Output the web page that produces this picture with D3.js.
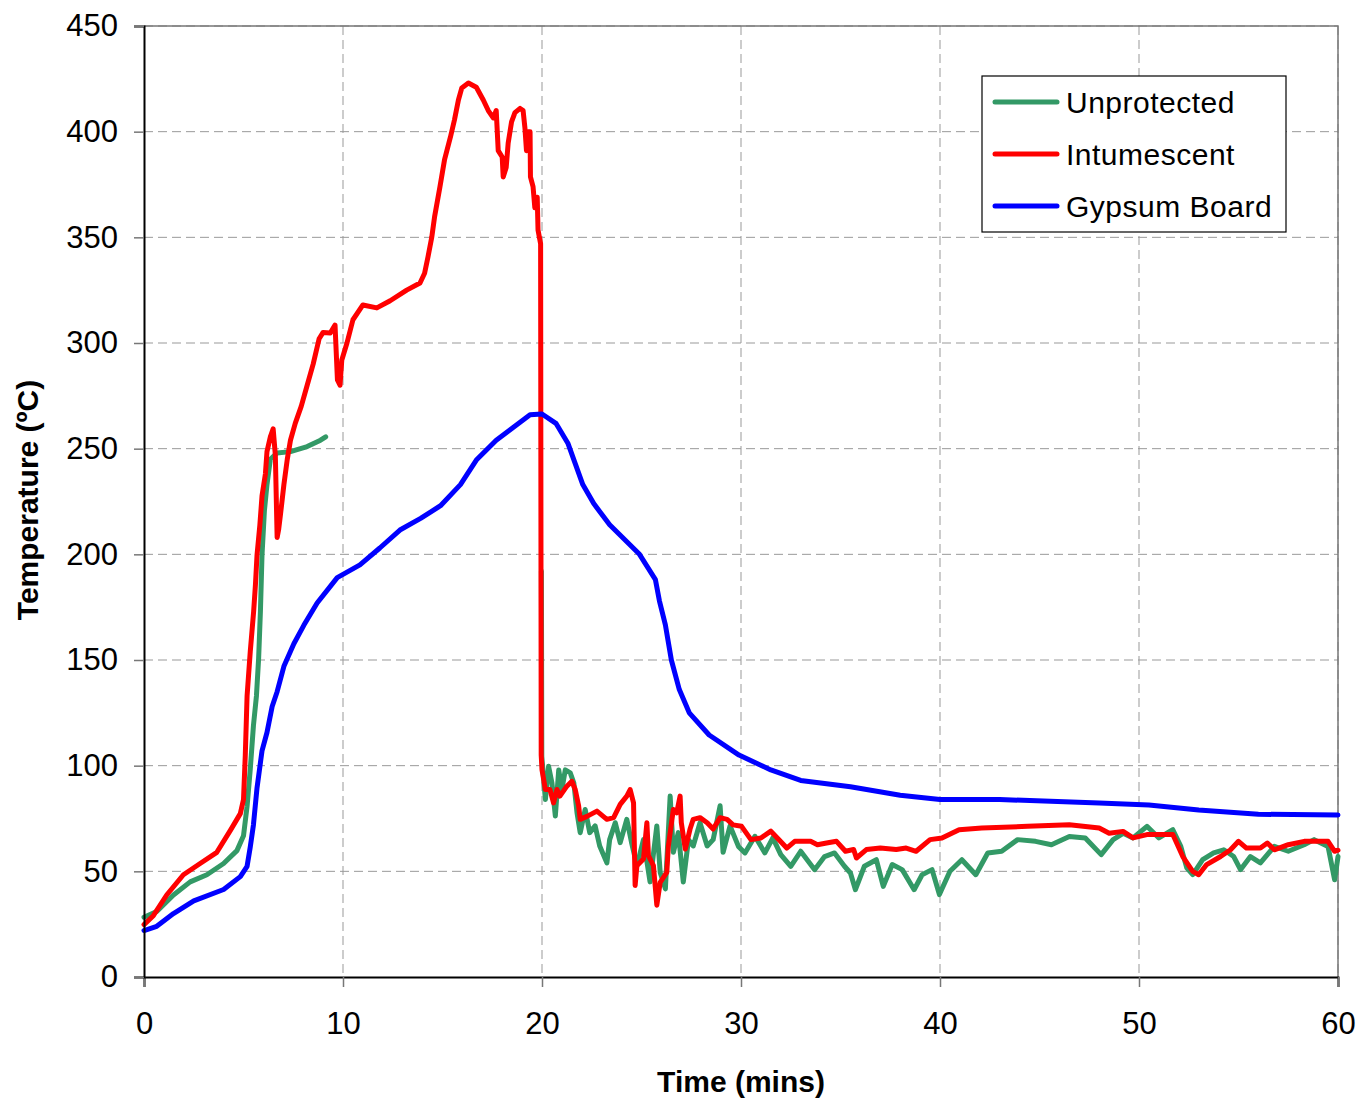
<!DOCTYPE html>
<html>
<head>
<meta charset="utf-8">
<script src="https://cdn.jsdelivr.net/npm/d3@7"></script>
<style>
  body { margin: 0; background: #fff; }
  text { font-family: "Liberation Sans", Arial, sans-serif; }
</style>
</head>
<body>
<div id="chart"></div>
<script>
// series (time in mins, temperature in C)
var unprotTime = [0, 0.64, 1.48, 2.32, 3.16, 4.0, 4.67, 5.0, 5.18, 5.34, 5.5, 5.65, 5.76, 5.85, 5.93, 6.05, 6.18, 6.35, 6.69, 7.36, 8.2, 8.87, 9.13,
    null,
    19.97, 19.99, 20.17, 20.33, 20.5, 20.67, 20.84, 21.0, 21.17, 21.42, 21.6, 21.76, 21.92, 22.17, 22.4, 22.67, 22.9, 23.26, 23.4, 23.68, 23.93, 24.26, 24.5, 24.77, 25.1, 25.43, 25.77, 25.94, 26.2, 26.44, 26.6, 26.85, 27.1, 27.36, 27.6, 27.94, 28.3, 28.6, 28.95, 29.1, 29.45,
    29.87, 30.2, 30.7, 31.2, 31.6, 32.0, 32.5, 33.0, 33.7, 34.2, 34.7, 35.2, 35.5, 35.75, 36.2, 36.8, 37.15, 37.6, 38.1, 38.7, 39.1, 39.6, 39.97, 40.5, 41.1, 41.8, 42.4, 43.1, 43.9,
    44.8, 45.6, 46.5, 47.3, 48.1, 48.7, 49.2, 49.7, 50.4, 51.0, 51.7, 52.1, 52.4, 52.7, 53.2, 53.75, 54.26, 54.76, 55.1, 55.6, 56.1, 56.8, 57.5, 58.3, 58.8, 59.5, 59.83, 60];
var unprotTemp = [28.3, 31, 38.8, 45, 48.4, 53.7, 59.8, 66.8, 80.8, 98.3, 119, 133, 150.7, 173, 199.6, 220.6, 233, 245, 248, 248.6, 251, 254, 255.6,
    null,
    192, 104.4, 84, 99.7, 91.8, 76.2, 98, 88.7, 98, 96.6, 91.8, 77.7, 68.3, 79.3, 68.3, 71.5, 62, 54, 65, 73, 63.6, 74.6, 63.6, 52.7, 65, 45, 71.5, 49.5, 41.7, 85.6, 59, 68.3, 45, 65, 62, 73, 62, 65, 81, 59, 71.5,
    61.8, 58.7, 66.6, 58.7, 65.8, 57.9, 52.4, 59.5, 50.8, 57, 58.7, 52.4, 49.2, 41.3, 52.4, 55.5, 42.9, 53.2, 50.8, 41.3, 48.4, 50.8, 39, 50, 55.5, 48.4, 58.7, 59.5, 65,
    64.2, 62.6, 66.5, 65.8, 57.9, 65, 68, 65.8, 71.3, 65.8, 69.7, 61.8, 51.6, 48.4, 55.5, 58.7, 60.2, 57, 50.8, 57, 54, 61.8, 59.5, 62.6, 65, 61.8, 46, 57];

var intumTime = [0, 0.47, 1.14, 1.98, 2.82, 3.66, 4.34, 4.84, 5.0, 5.09, 5.18, 5.34, 5.51, 5.6, 5.68, 5.82, 5.93, 6.1, 6.18, 6.35, 6.49, 6.6, 6.69, 6.77, 6.86, 7.03, 7.2, 7.36, 7.6, 7.9, 8.2, 8.5, 8.8, 9.0, 9.36, 9.6, 9.72, 9.85, 9.94,
    10.2, 10.5, 11.0, 11.7, 12.37, 13.2, 13.87, 14.1, 14.27, 14.46, 14.6, 14.87, 15.1, 15.4, 15.6, 15.8, 15.97, 16.3, 16.7, 17.05, 17.3, 17.55, 17.7, 17.8, 18.0, 18.05, 18.2, 18.3, 18.47, 18.64, 18.9, 19.05, 19.14, 19.22, 19.3, 19.4, 19.42, 19.55, 19.64, 19.76, 19.8, 19.93, 19.96,
    20.0, 20.17, 20.4, 20.58, 20.75, 20.9, 21.25, 21.5, 21.67, 21.84, 21.92, 22.26, 22.76, 23.26, 23.6, 23.93, 24.26, 24.43, 24.6, 24.68, 24.77, 25.1, 25.27, 25.35, 25.6, 25.77, 25.94, 26.27, 26.35, 26.6, 26.77, 26.94, 27.0, 27.2, 27.44, 27.6, 27.94, 28.3, 28.6, 28.95, 29.3, 29.6,
    30.03, 30.5, 31.0, 31.5, 31.98, 32.3, 32.7, 33.5, 33.84, 34.3, 34.8, 35.25, 35.66, 35.8, 36.3, 37.0, 37.8, 38.3, 38.8, 39.5, 40.1, 40.96, 42.1, 44.4,
    46.5, 48.0, 48.5, 49.2, 49.7, 50.4, 51.7, 52.2, 52.7, 53.0, 53.4, 54.1, 54.6, 55.0, 55.4, 56.1, 56.45, 56.8, 57.5, 58.3, 59.5, 59.83, 60];
var intumTemp = [24.8, 29, 38.8, 48.4, 53.7, 59, 69.4, 77.3, 84, 105, 133, 154, 173, 185.7, 199.7, 213.6, 227.6, 238, 248.6, 255.6, 259.4, 247, 208, 212, 219, 233, 245, 254, 262, 270, 280, 290, 302, 305, 304.7, 308.5, 282.5, 280, 292,
    300, 311, 318, 316.6, 320, 325, 328.4, 333, 340.7, 350, 359.6, 373.8, 386.6, 397.5, 405.5, 415, 420.7, 423, 421, 415, 410, 406.5, 410, 391, 388, 378.6, 383, 394.6, 404.6, 409, 411, 410, 402, 391, 400, 400, 378.6, 374, 364, 369, 353.5, 347, 105,
    98, 88.7, 88.7, 82.4, 88.7, 85.6, 90.3, 92.6, 88.7, 81, 74.6, 76, 78.5, 74.6, 75.4, 81.7, 85.6, 88.7, 82.4, 43.3, 52.7, 55.8, 73, 57.4, 52.7, 34, 44.8, 49.5, 62, 79.3, 77.7, 85.6, 73, 60.5, 70, 74.6, 75.4, 73, 70, 75.4, 74.6, 72,
    71.3, 65, 65.8, 69, 64.2, 61, 64.2, 64.2, 62.6, 63.4, 64.2, 59.5, 60.3, 56.3, 60.3, 61, 60.3, 61, 59.5, 65, 65.8, 69.7, 70.5, 71.3,
    72, 70.5, 68, 68.9, 65.8, 67.4, 67.4, 57, 50, 48.4, 53.2, 57, 60.2, 64.2, 61, 61, 63.4, 60.2, 62.6, 64.2, 64.2, 59.5, 60];

var gypsumTime = [0, 0.64, 1.48, 2.5, 4.0, 4.84, 5.18, 5.34, 5.5, 5.68, 5.93, 6.18, 6.44, 6.69, 7.03, 7.53, 8.03, 8.7, 9.71, 10.85, 11.85, 12.86, 13.9, 14.9, 15.9, 16.7, 17.7, 19.4, 20.0, 20.7, 21.3,
    22.05, 22.6, 23.4, 24.9, 25.7, 25.9, 26.2, 26.5, 26.9, 27.4, 28.4, 29.9, 31.5, 33, 35.5, 38, 40, 43, 48, 50.5, 53, 56, 60];
var gypsumTemp = [22, 24, 30, 36, 41.4, 47.5, 52.4, 61.5, 72, 89.5, 107, 115.7, 128, 135, 147, 157.7, 166.4, 177, 189, 195, 203, 211.5, 217, 223, 233, 244.6, 254, 266, 266.4, 262, 252.6,
    233, 224, 214, 200, 188, 178, 166.6, 150, 136, 125, 114.5, 105, 98, 93, 90, 86, 84, 84, 82.3, 81.4, 79, 77, 76.7];

var xTicks = [0, 10, 20, 30, 40, 50, 60];
var yTicks = [0, 50, 100, 150, 200, 250, 300, 350, 400, 450];
var seriesNames = ['Unprotected', 'Intumescent', 'Gypsum Board'];
var seriesColors = ['#339966', '#ff0000', '#0000ff'];

function toPoints(times, temps) {
    return times.map(function(t, i) { return { t: t, v: temps[i] }; });
}

var allSeries = [
    toPoints(unprotTime, unprotTemp),
    toPoints(intumTime, intumTemp),
    toPoints(gypsumTime, gypsumTemp)
];

var W = 1359, H = 1099;
var margin = { top: 26, right: 21, bottom: 122, left: 144 };
var w = W - margin.left - margin.right;
var h = H - margin.top - margin.bottom;

var svg = d3.select('#chart').append('svg')
    .attr('width', W)
    .attr('height', H);

var g = svg.append('g')
    .attr('transform', 'translate(' + margin.left + ',' + margin.top + ')');

var x = d3.scaleLinear().domain([0, 60]).range([0, w]);
var y = d3.scaleLinear().domain([0, 450]).range([h, 0]);

// grid lines
g.append('g').selectAll('line.hg')
    .data(yTicks.slice(1))
    .enter().append('line')
    .attr('x1', 0).attr('x2', w)
    .attr('y1', function(d) { return y(d); })
    .attr('y2', function(d) { return y(d); })
    .attr('stroke', '#999')
    .attr('stroke-dasharray', '9,5');

g.append('g').selectAll('line.vg')
    .data(xTicks.slice(1))
    .enter().append('line')
    .attr('y1', 0).attr('y2', h)
    .attr('x1', function(d) { return x(d); })
    .attr('x2', function(d) { return x(d); })
    .attr('stroke', '#999')
    .attr('stroke-dasharray', '9,5');

// frame top/right
g.append('path')
    .attr('d', 'M0,0H' + w + 'V' + h)
    .attr('fill', 'none')
    .attr('stroke', '#777')
    .attr('stroke-width', 1.5);

var line = d3.line()
    .defined(function(d) { return d.t !== null && d.v !== null; })
    .x(function(d) { return x(d.t); })
    .y(function(d) { return y(d.v); });

g.selectAll('path.series')
    .data(allSeries)
    .enter().append('path')
    .attr('class', 'series')
    .attr('d', line)
    .attr('fill', 'none')
    .attr('stroke', function(d, i) { return seriesColors[i]; })
    .attr('stroke-width', 5)
    .attr('stroke-linejoin', 'round')
    .attr('stroke-linecap', 'round');

// axes
var xAxis = g.append('g')
    .attr('transform', 'translate(0,' + h + ')')
    .call(d3.axisBottom(x).tickValues(xTicks).tickSize(10).tickPadding(25));
var yAxis = g.append('g')
    .call(d3.axisLeft(y).tickValues(yTicks).tickSize(10).tickPadding(16));

[xAxis, yAxis].forEach(function(a) {
    a.select('.domain').attr('stroke', '#000').attr('stroke-width', 2);
    a.selectAll('.tick line').attr('stroke', '#777').attr('stroke-width', 1.5);
    a.selectAll('.tick text')
        .style('font-size', '31px')
        .style('font-family', '"Liberation Sans", Arial, sans-serif')
        .attr('fill', '#000');
});

// axis titles
svg.append('text')
    .attr('x', 741)
    .attr('y', 1092)
    .attr('text-anchor', 'middle')
    .style('font-size', '30px')
    .style('font-weight', 'bold')
    .text('Time (mins)');

svg.append('text')
    .attr('transform', 'translate(38,500) rotate(-90)')
    .attr('text-anchor', 'middle')
    .style('font-size', '30px')
    .style('font-weight', 'bold')
    .text('Temperature (ºC)');

// legend
var legend = svg.append('g').attr('transform', 'translate(982,76)');
legend.append('rect')
    .attr('width', 304)
    .attr('height', 156)
    .attr('fill', '#fff')
    .attr('stroke', '#000')
    .attr('stroke-width', 1.2);

var items = legend.selectAll('g.item')
    .data(seriesNames)
    .enter().append('g')
    .attr('transform', function(d, i) { return 'translate(0,' + (26 + i * 52) + ')'; });

items.append('line')
    .attr('x1', 13).attr('x2', 75)
    .attr('stroke', function(d, i) { return seriesColors[i]; })
    .attr('stroke-width', 5)
    .attr('stroke-linecap', 'round');

items.append('text')
    .attr('x', 84)
    .attr('dy', '0.35em')
    .style('font-size', '30px')
    .style('letter-spacing', '0.5px')
    .text(function(d) { return d; });
</script>
</body>
</html>
